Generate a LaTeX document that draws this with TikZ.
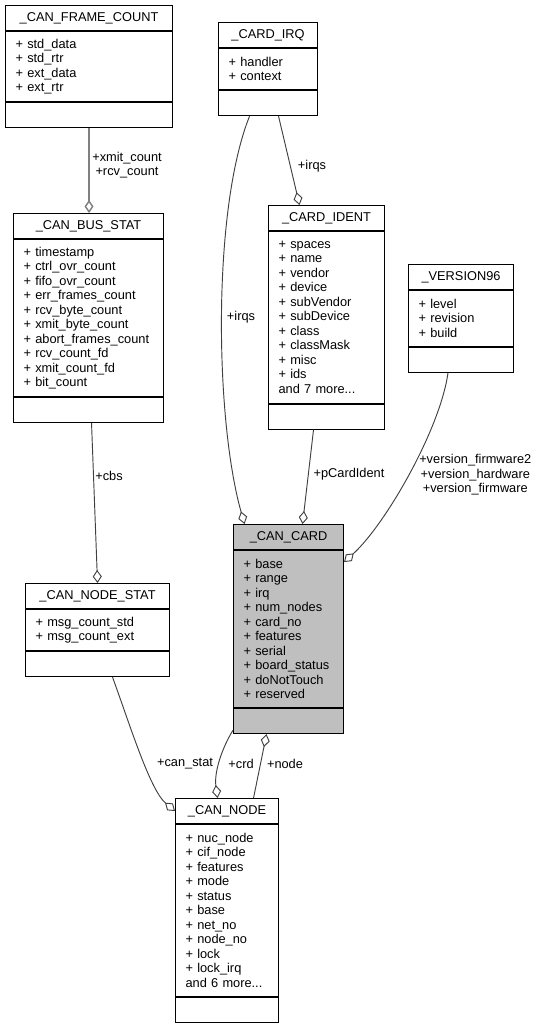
\documentclass[tikz,border=0pt]{standalone}
\usepackage{fontspec}
\setmainfont{Liberation Sans}
\usetikzlibrary{arrows.meta,calc}
\definecolor{cardgray}{HTML}{BFBFBF}
\definecolor{edgegray}{HTML}{404040}
\definecolor{lightedge}{HTML}{808080}

\tikzset{
  every node/.style={font=\fontsize{9.6pt}{10.875pt}\selectfont},
  ctitle/.style={draw=black, line width=0.8pt, minimum height=18.75pt, inner sep=0pt},
  cattr/.style={draw=black, line width=0.8pt, inner xsep=7.5pt, inner ysep=0pt, align=left},
  cempty/.style={draw=black, line width=0.8pt, minimum height=18.75pt, inner sep=0pt},
  rel/.style={draw=edgegray, line width=0.7pt,
    -{Diamond[open, length=9.75pt, width=6.8pt]}},
  elabel/.style={align=center, inner sep=0pt},
}

\newcommand{\umlclass}[8]{%
  \pgfmathsetlengthmacro\umltw{(#5-20)*0.75pt}%
  \node[ctitle, #1, minimum width=#5*0.75pt, anchor=north west] (#2-t) at (#3,#4) {#7};
  \node[cattr, #1, minimum width=#5*0.75pt, text width=\umltw,
        minimum height=(14.5*#6+12)*0.75pt, anchor=north] (#2-a) at (#2-t.south) {#8\par\vspace{2.2pt}};
  \node[cempty, #1, minimum width=#5*0.75pt, anchor=north] (#2-e) at (#2-a.south) {};
}

\begin{document}
\begin{tikzpicture}[x=0.75pt, y=-0.75pt]
\useasboundingbox (0,0) rectangle (540,1027);

\umlclass{}{fc}{5}{5}{167}{4}{\_CAN\_FRAME\_COUNT}{+ std\_data\\+ std\_rtr\\+ ext\_data\\+ ext\_rtr}
\umlclass{}{bs}{13}{213}{150}{10}{\_CAN\_BUS\_STAT}{+ timestamp\\+ ctrl\_ovr\_count\\+ fifo\_ovr\_count\\+ err\_frames\_count\\+ rcv\_byte\_count\\+ xmit\_byte\_count\\+ abort\_frames\_count\\+ rcv\_count\_fd\\+ xmit\_count\_fd\\+ bit\_count}
\umlclass{}{irq}{218}{22}{99}{2}{\_CARD\_IRQ}{+ handler\\+ context}
\umlclass{}{id}{268}{205}{116}{11}{\_CARD\_IDENT}{+ spaces\\+ name\\+ vendor\\+ device\\+ subVendor\\+ subDevice\\+ class\\+ classMask\\+ misc\\+ ids\\and 7 more...}
\umlclass{}{ver}{408}{264}{105}{3}{\_VERSION96}{+ level\\+ revision\\+ build}
\umlclass{fill=cardgray}{card}{233}{524}{110}{10}{\_CAN\_CARD}{+ base\\+ range\\+ irq\\+ num\_nodes\\+ card\_no\\+ features\\+ serial\\+ board\_status\\+ doNotTouch\\+ reserved}
\umlclass{}{ns}{25}{583}{144}{2}{\_CAN\_NODE\_STAT}{+ msg\_count\_std\\+ msg\_count\_ext}
\umlclass{}{node}{175}{798}{103}{11}{\_CAN\_NODE}{+ nuc\_node\\+ cif\_node\\+ features\\+ mode\\+ status\\+ base\\+ net\_no\\+ node\_no\\+ lock\\+ lock\_irq\\and 6 more...}

% connectors
\draw[rel, draw=lightedge, line width=1.1pt] (fc-e.south) -- (fc-e.south |- bs-t.north);
\draw[rel] ($(bs-e.south)+(3,0)$) -- (ns-t.north);
\draw[rel] ($(irq-e.south)+(10.5,0)$) -- ($(id-t.north)+(-27,0)$);
\draw[rel] ($(irq-e.south)+(-18.5,0)$) .. controls (212,210) and (215,420) .. ($(card-t.north)+(-44,0)$);
\draw[rel] ($(id-e.south)+(-13,0)$) -- ($(card-t.north)+(14,0)$);
\draw[rel] ($(ver-e.south)+(-13,0)$) .. controls (440,430) and (385,525) .. ($(card-a.north east)+(0,12)$);
\draw[rel] ($(ns-e.south)+(15,0)$) .. controls (130,725) and (150,790) .. (node-t.west);
\draw[rel] ($(card-e.south west)+(0,-4)$) .. controls (222,748) and (214,772) .. ($(node-t.north)+(-9.5,0)$);
\draw[rel] ($(node-t.north)+(26.5,0)$) -- ($(card-e.south)+(-22,0)$);

% labels
\node[elabel] (l1) at (127,165) {+xmit\_count\\+rcv\_count};
\node[elabel] (l2) at (109,476) {+cbs};
\node[elabel] (l3) at (312,166) {+irqs};
\node[elabel] (l4) at (241,317) {+irqs};
\node[elabel] (l5) at (349,474) {+pCardIdent};
\node[elabel, anchor=west] (l6) at (419,475) {+version\_firmware2\\+version\_hardware\\+version\_firmware};
\node[elabel] (l7) at (185,764) {+can\_stat};
\node[elabel] (l8) at (241,764) {+crd};
\node[elabel] (l9) at (285,764) {+node};
\end{tikzpicture}
\end{document}
